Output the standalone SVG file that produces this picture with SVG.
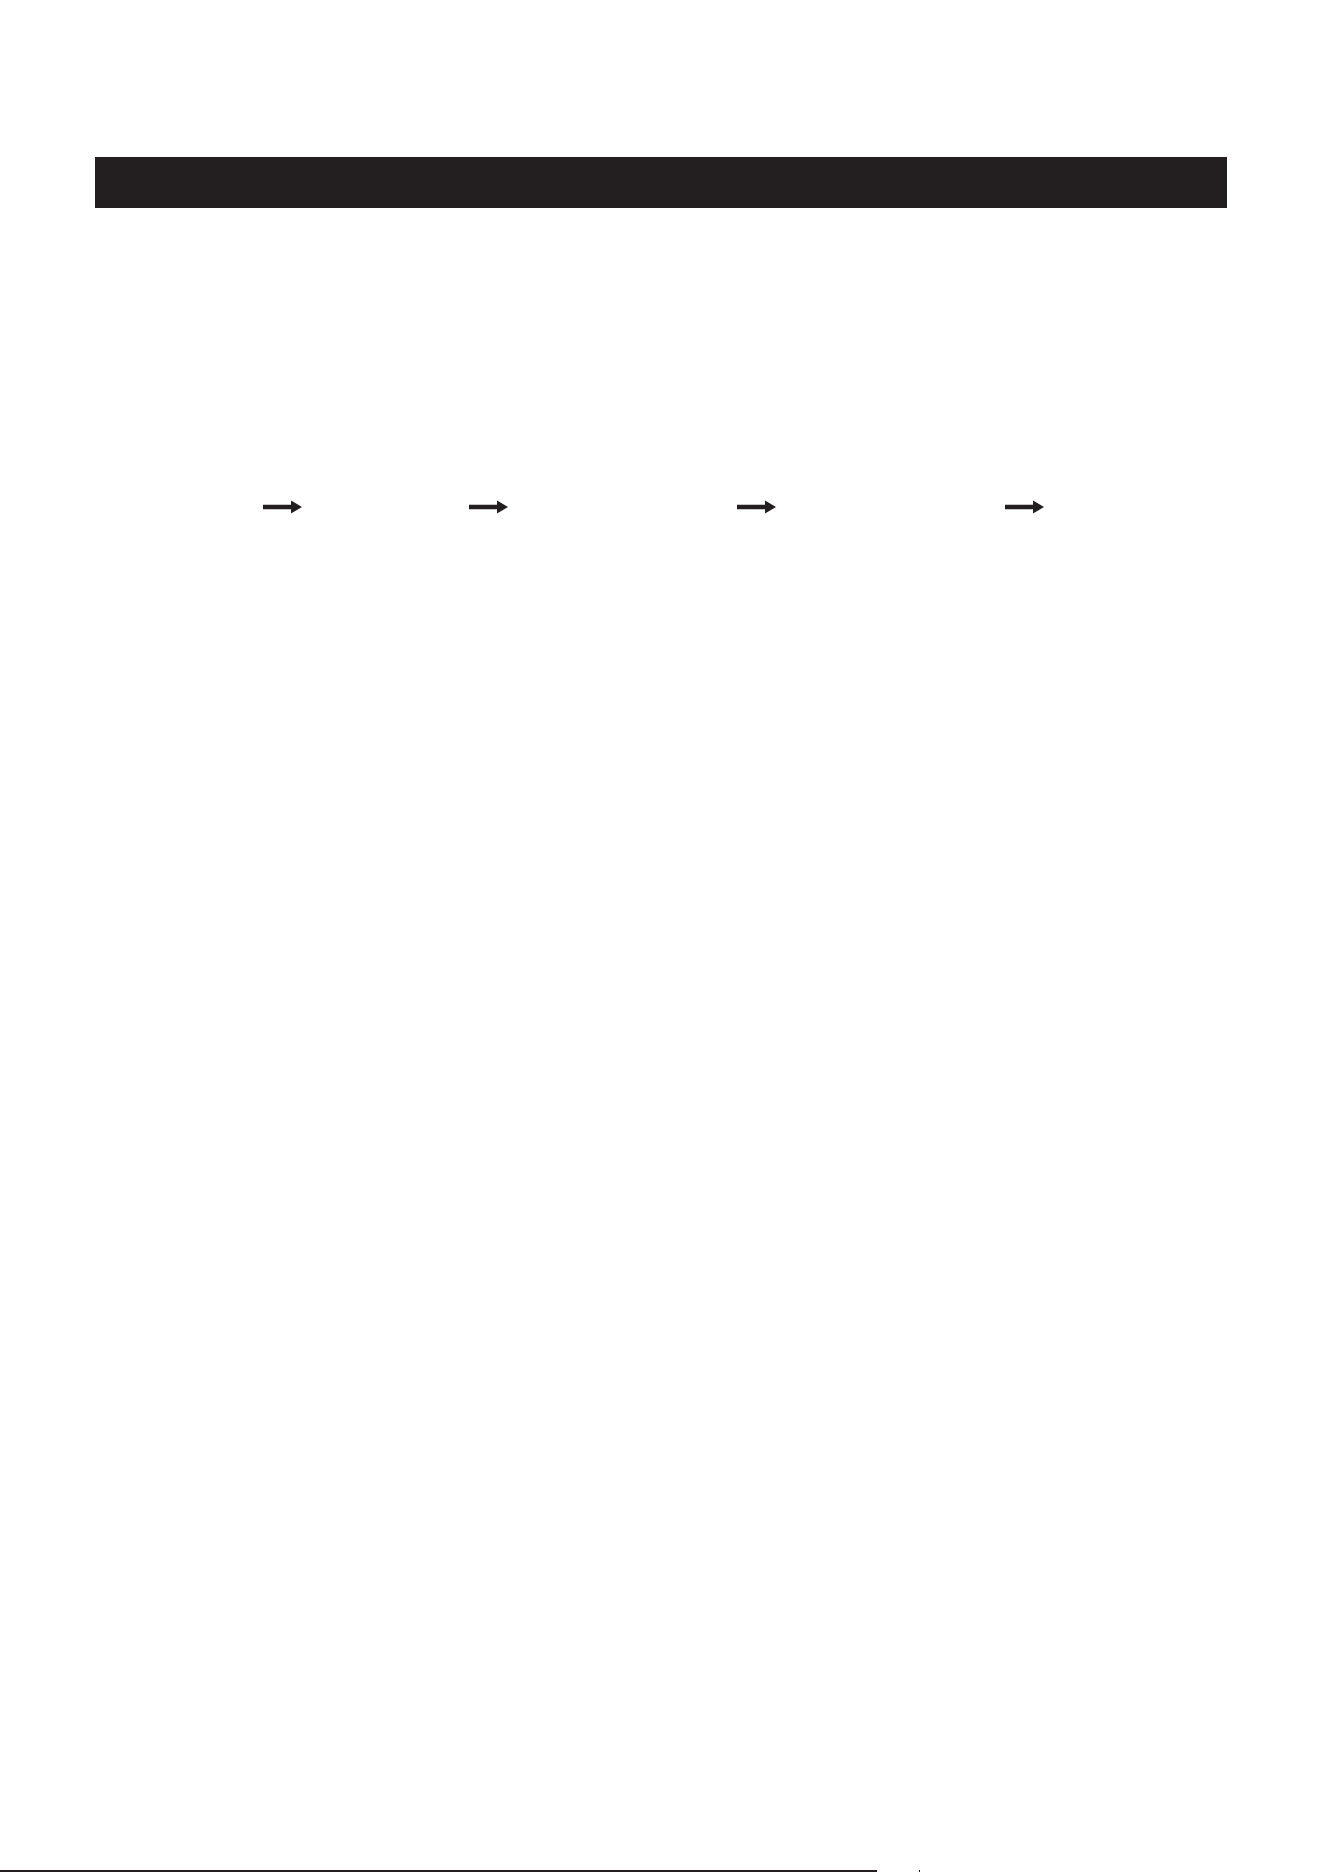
<svg xmlns="http://www.w3.org/2000/svg" width="1324" height="1872" viewBox="0 0 1324 1872">
  <style>
    .ink { fill: #231f20; }
    .shaft { stroke: #231f20; stroke-width: 4.5; fill: none; }
  </style>
  <defs>
    <marker id="head" markerUnits="userSpaceOnUse" markerWidth="12" markerHeight="16" refX="0" refY="8" orient="auto">
      <path d="M0,1.5 L11,8 L0,14.5 Z" class="ink"/>
    </marker>
  </defs>
  <rect width="1324" height="1872" fill="#ffffff"/>
  <g id="header">
    <rect class="ink" x="95" y="157" width="1132" height="51"/>
  </g>
  <g id="connectors">
    <line class="shaft" x1="263" y1="507" x2="291" y2="507" marker-end="url(#head)"/>
    <line class="shaft" x1="469" y1="507" x2="497" y2="507" marker-end="url(#head)"/>
    <line class="shaft" x1="737" y1="507" x2="765" y2="507" marker-end="url(#head)"/>
    <line class="shaft" x1="1005" y1="507" x2="1033" y2="507" marker-end="url(#head)"/>
  </g>
  <g id="footer">
    <rect class="ink" x="0" y="1870" width="877" height="2"/>
    <rect class="ink" x="919" y="1870" width="1" height="2"/>
  </g>
</svg>
